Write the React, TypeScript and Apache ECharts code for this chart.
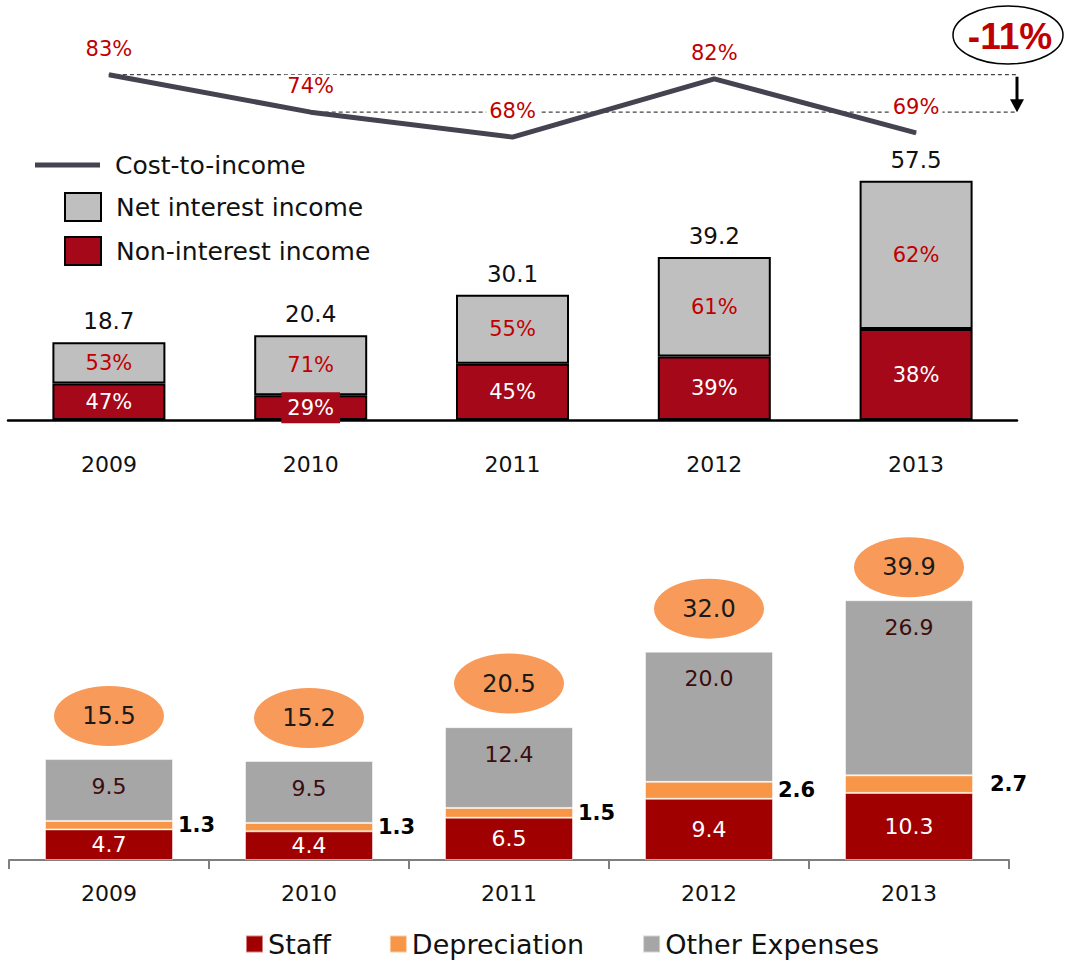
import React, { useEffect, useRef } from "react";
import * as echarts from "echarts";

const years = ["2009", "2010", "2011", "2012", "2013"];
const totalIncome = [18.7, 20.4, 30.1, 39.2, 57.5];
const nonInterestShare = [47, 29, 45, 39, 38];
const netInterestShare = [53, 71, 55, 61, 62];
const costToIncome = [83, 74, 68, 82, 69];
const ctiChangeLabel = "-11%";

const staff = [4.7, 4.4, 6.5, 9.4, 10.3];
const depreciation = [1.3, 1.3, 1.5, 2.6, 2.7];
const otherExpenses = [9.5, 9.5, 12.4, 20.0, 26.9];
const totalExpenses = [15.5, 15.2, 20.5, 32.0, 39.9];

const FONT = "DejaVu Sans";
const RED = "#a50818";
const GRAY = "#bfbfbf";
const LABEL_RED = "#c00000";
const LINE = "#45434f";
const STAFF = "#a00000";
const DEP = "#f79646";
const OTHER = "#a6a6a6";
const OVAL = "#f79a5a";

export default function App() {
  const ref = useRef<HTMLDivElement>(null);

  useEffect(() => {
    if (!ref.current) return;
    const chart = echarts.init(ref.current, undefined, { renderer: "svg" });

    const nonInterest = totalIncome.map((t, i) => +(t * nonInterestShare[i] / 100).toFixed(2));
    const netInterest = totalIncome.map((t, i) => +(t - nonInterest[i]).toFixed(2));

    const option: any = {
      animation: false,
      backgroundColor: "#ffffff",
      textStyle: { fontFamily: FONT },
      legend: [
        {
          data: [{ name: "Cost-to-income", icon: "rect" }],
          orient: "vertical",
          left: 35,
          top: 150,
          padding: 0,
          itemWidth: 65,
          itemHeight: 5,
          selectedMode: false,
          textStyle: { fontFamily: FONT, fontSize: 25, color: "#111", lineHeight: 30, padding: [0, 0, 0, 10] },
        },
        {
          data: [
            { name: "Net interest income", icon: "rect" },
            { name: "Non-interest income", icon: "rect" },
          ],
          orient: "vertical",
          left: 64,
          top: 192,
          padding: 0,
          itemWidth: 36,
          itemHeight: 28,
          itemGap: 14,
          selectedMode: false,
          textStyle: { fontFamily: FONT, fontSize: 25, color: "#111", lineHeight: 28, padding: [0, 0, 0, 10] },
        },
        {
          data: [
            { name: "Staff", icon: "rect" },
            { name: "Depreciation", icon: "rect" },
            { name: "Other Expenses", icon: "rect" },
          ],
          orient: "horizontal",
          left: 245,
          top: 930,
          padding: 0,
          itemWidth: 17,
          itemHeight: 17,
          itemGap: 58,
          selectedMode: false,
          textStyle: { fontFamily: FONT, fontSize: 27, color: "#111", lineHeight: 28 },
        },
      ],
      grid: [
        { left: 8, right: 55, top: 4, height: 416 },
        { left: 9, right: 63, top: 567, height: 293 },
      ],
      xAxis: [
        {
          type: "category",
          gridIndex: 0,
          data: years,
          axisLine: { lineStyle: { color: "#000", width: 2.5 } },
          axisTick: { show: false },
          axisLabel: { margin: 33, fontSize: 22, color: "#111", fontFamily: FONT },
        },
        {
          type: "category",
          gridIndex: 1,
          data: years,
          axisLine: { lineStyle: { color: "#7f7f7f", width: 2 } },
          axisTick: { show: true, length: 9, lineStyle: { color: "#7f7f7f", width: 2 } },
          axisLabel: { margin: 22, fontSize: 22, color: "#111", fontFamily: FONT },
        },
      ],
      yAxis: [
        { type: "value", gridIndex: 0, min: 0, max: 100, show: false, splitLine: { show: false } },
        { type: "value", gridIndex: 1, min: 0, max: 45, show: false, splitLine: { show: false } },
      ],
      series: [
        {
          name: "Non-interest income",
          type: "bar",
          stack: "income",
          xAxisIndex: 0,
          yAxisIndex: 0,
          barWidth: 113,
          data: nonInterest,
          itemStyle: { color: RED, borderColor: "#000", borderWidth: 2 },
          label: {
            show: true,
            position: "inside",
            fontSize: 21,
            color: "#fff",
            fontFamily: FONT,
            backgroundColor: RED,
            padding: [5, 6],
            formatter: (p: any) => nonInterestShare[p.dataIndex] + "%",
          },
          z: 2,
        },
        {
          name: "Net interest income",
          type: "bar",
          stack: "income",
          xAxisIndex: 0,
          yAxisIndex: 0,
          barWidth: 113,
          data: netInterest,
          itemStyle: { color: GRAY, borderColor: "#000", borderWidth: 2 },
          label: {
            show: true,
            position: "inside",
            fontSize: 21,
            color: LABEL_RED,
            fontFamily: FONT,
            formatter: (p: any) => netInterestShare[p.dataIndex] + "%",
          },
          z: 1,
        },
        {
          name: "Total income",
          type: "scatter",
          xAxisIndex: 0,
          yAxisIndex: 0,
          data: totalIncome,
          symbolSize: 1,
          itemStyle: { color: "rgba(0,0,0,0)", opacity: 1 },
          label: {
            show: true,
            position: "top",
            distance: 9,
            fontSize: 23,
            color: "#111",
            fontFamily: FONT,
            formatter: (p: any) => totalIncome[p.dataIndex].toFixed(1),
          },
          silent: true,
        },
        {
          name: "Cost-to-income",
          type: "line",
          xAxisIndex: 0,
          yAxisIndex: 0,
          data: costToIncome,
          symbol: "circle",
          symbolSize: 1,
          itemStyle: { color: LINE },
          lineStyle: { color: LINE, width: 5 },
          label: {
            show: true,
            position: "top",
            distance: 14,
            fontSize: 21,
            color: LABEL_RED,
            fontFamily: FONT,
            backgroundColor: "#fff",
            padding: [1, 3],
            formatter: (p: any) => costToIncome[p.dataIndex] + "%",
          },
          z: 5,
        },
        {
          name: "Staff",
          type: "bar",
          stack: "cost",
          xAxisIndex: 1,
          yAxisIndex: 1,
          barWidth: 128,
          data: staff,
          itemStyle: { color: STAFF, borderColor: "rgba(255,255,255,0.5)", borderWidth: 1 },
          label: {
            show: true,
            position: "inside",
            fontSize: 22,
            color: "#fff",
            fontFamily: FONT,
            formatter: (p: any) => staff[p.dataIndex].toFixed(1),
          },
        },
        {
          name: "Depreciation",
          type: "bar",
          stack: "cost",
          xAxisIndex: 1,
          yAxisIndex: 1,
          barWidth: 128,
          data: depreciation.map((v, i) =>
            i === depreciation.length - 1 ? { value: v, label: { distance: 17 } } : v
          ),
          itemStyle: { color: DEP, borderColor: "rgba(255,255,255,0.5)", borderWidth: 1 },
          label: {
            show: true,
            position: "right",
            distance: 5,
            fontSize: 21,
            fontWeight: "bold",
            color: "#000",
            fontFamily: FONT,
            formatter: (p: any) => depreciation[p.dataIndex].toFixed(1),
          },
        },
        {
          name: "Other Expenses",
          type: "bar",
          stack: "cost",
          xAxisIndex: 1,
          yAxisIndex: 1,
          barWidth: 128,
          data: otherExpenses,
          itemStyle: { color: OTHER, borderColor: "rgba(255,255,255,0.5)", borderWidth: 1 },
          label: {
            show: true,
            position: "insideTop",
            distance: 16,
            fontSize: 22,
            color: "#3d0c0c",
            fontFamily: FONT,
            formatter: (p: any) => otherExpenses[p.dataIndex].toFixed(1),
          },
        },
        {
          name: "Total expenses",
          type: "scatter",
          xAxisIndex: 1,
          yAxisIndex: 1,
          data: totalExpenses.map((v, i) =>
            i === totalExpenses.length - 1 ? { value: v, symbolOffset: [0, -33] } : v
          ),
          symbol: "circle",
          symbolSize: [110, 60],
          symbolOffset: [0, -43],
          itemStyle: { color: OVAL, opacity: 1 },
          label: {
            show: true,
            position: "inside",
            fontSize: 24,
            color: "#1a1a1a",
            fontFamily: FONT,
            formatter: (p: any) => totalExpenses[p.dataIndex].toFixed(1),
          },
          clip: false,
          silent: true,
        },
      ],
    };

    chart.setOption(option);

    // Reference lines and the change annotation, positioned from the axes
    const pStart = chart.convertToPixel({ gridIndex: 0 }, [0, costToIncome[0]]) as number[];
    const pSecond = chart.convertToPixel({ gridIndex: 0 }, [1, costToIncome[1]]) as number[];
    const rightX = 1017;
    const dash = { stroke: "#444", lineWidth: 1.2, lineDash: [4, 3] };
    chart.setOption({
      graphic: [
        { type: "line", z: 0, shape: { x1: pStart[0], y1: pStart[1], x2: rightX, y2: pStart[1] }, style: dash },
        { type: "line", z: 0, shape: { x1: pSecond[0], y1: pSecond[1], x2: rightX, y2: pSecond[1] }, style: dash },
        {
          type: "line",
          z: 10,
          shape: { x1: rightX, y1: pStart[1] + 2, x2: rightX, y2: pSecond[1] - 10 },
          style: { stroke: "#000", lineWidth: 3 },
        },
        {
          type: "polygon",
          z: 10,
          shape: {
            points: [
              [rightX - 7, pSecond[1] - 13],
              [rightX + 7, pSecond[1] - 13],
              [rightX, pSecond[1]],
            ],
          },
          style: { fill: "#000" },
        },
        {
          type: "ellipse",
          z: 10,
          shape: { cx: 1008, cy: 35, rx: 55, ry: 29 },
          style: { fill: "#fff", stroke: "#000", lineWidth: 1.5 },
        },
        {
          type: "text",
          z: 11,
          x: 1010,
          y: 36,
          style: {
            text: ctiChangeLabel,
            fill: LABEL_RED,
            font: "bold 37px 'Liberation Sans'",
            align: "center",
            verticalAlign: "middle",
          },
        },
      ],
    });

    return () => chart.dispose();
  }, []);

  return (
    <div
      ref={ref}
      style={{ position: "absolute", left: 0, top: 0, width: 1072, height: 960, background: "#fff" }}
    />
  );
}
